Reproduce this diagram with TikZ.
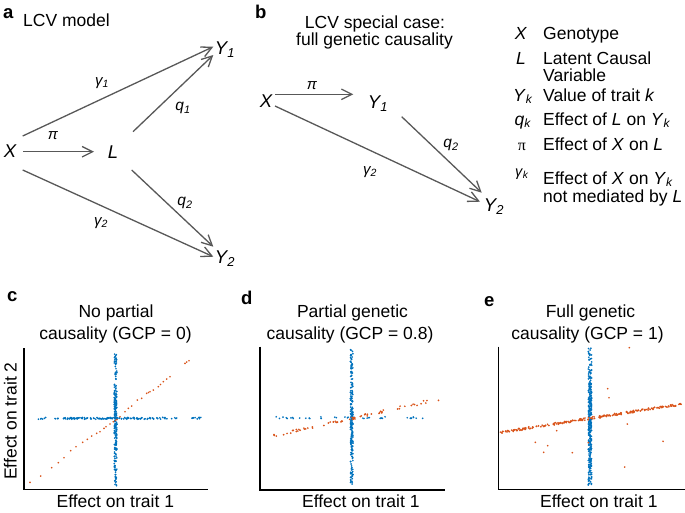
\documentclass[tikz,border=0pt]{standalone}
\usepackage{fontspec}
\setmainfont{Liberation Sans}
\newfontfamily\symgreek{Liberation Serif}
\usetikzlibrary{arrows.meta}
\definecolor{dotblue}{rgb}{0,0.447,0.741}
\definecolor{dotorange}{rgb}{0.85,0.325,0.098}
\definecolor{arrowgray}{RGB}{88,88,88}
\newcommand{\legsub}[1]{\raisebox{-2pt}{\fontsize{12}{12}\selectfont\itshape #1}}
\begin{document}
\begin{tikzpicture}[x=1pt,y=-1pt,
  txt/.style={font=\fontsize{17.5}{17.5}\selectfont, inner sep=0pt},
  var/.style={font=\fontsize{18.5}{18.5}\selectfont\itshape, inner sep=0pt},
  coef/.style={font=\fontsize{15}{15}\selectfont\itshape, inner sep=0pt},
  qcoef/.style={font=\fontsize{15.5}{15.5}\selectfont\itshape, inner sep=0pt},
  paneltag/.style={font=\fontsize{18.5}{18.5}\selectfont\bfseries, inner sep=0pt, anchor=base west},
  arr/.style={draw=arrowgray, line width=1.3pt, -{Straight Barb[length=10.5pt,width=10.5pt,line width=1.3pt]}},
  axisline/.style={draw=black, line width=1.1pt},
  bdot/.style={fill=dotblue},
  odot/.style={fill=dotorange},
]
\useasboundingbox (0,0) rectangle (685,512);
\pgfmathsetseed{4242}

% ---------------- panel a ----------------
\node[paneltag] (ta) at (3,18.5) {a};
\node[txt, anchor=base west] (titlea) at (23,26.5) {LCV model};
\node[var] (aX) at (10,151) {X};
\node[var] (aL) at (113,152) {L};
\node[var] (aY1) at (225,50) {Y\textsubscript{1}};
\node[var] (aY2) at (225,259) {Y\textsubscript{2}};
\draw[arr] ([shift={(13.3,0.7)}]aX.center) -- ([shift={(-19,-0.3)}]aL.center);
\draw[arr] ([shift={(12.7,-15)}]aX.center) -- ([shift={(-11.7,-3.3)}]aY1.center);
\draw[arr] ([shift={(20,-20.3)}]aL.center) -- ([shift={(-11.7,5)}]aY1.center);
\draw[arr] ([shift={(18.7,18)}]aL.center) -- ([shift={(-11.7,-12.3)}]aY2.center);
\draw[arr] ([shift={(12.7,19)}]aX.center) -- ([shift={(-11.7,-2.3)}]aY2.center);
\node[coef] (ag1) at (102,83) {γ\textsubscript{1}};
\node[coef] (api) at (53,136) {π};
\node[qcoef] (aq1) at (183,108) {q\textsubscript{1}};
\node[qcoef] (aq2) at (185,203) {q\textsubscript{2}};
\node[coef] (ag2) at (101,223) {γ\textsubscript{2}};

% ---------------- panel b ----------------
\node[paneltag] (tb) at (255,18.3) {b};
\node[txt, anchor=base] (titleb1) at (375,28.5) {LCV special case:};
\node[txt, anchor=base] (titleb2) at (374.5,45.5) {full genetic causality};
\node[var] (bX) at (266,101) {X};
\node[var] (bY1) at (378,104) {Y\textsubscript{1}};
\node[var] (bY2) at (494,207) {Y\textsubscript{2}};
\draw[arr] ([shift={(9,-6.7)}]bX.center) -- ([shift={(-24.7,-9.7)}]bY1.center);
\draw[arr] ([shift={(9,5)}]bX.center) -- ([shift={(-14,-5.3)}]bY2.center);
\draw[arr] ([shift={(23.7,12.7)}]bY1.center) -- ([shift={(-12.3,-14.3)}]bY2.center);
\node[coef] (bpi) at (312,86) {π};
\node[qcoef] (bq2) at (451,145) {q\textsubscript{2}};
\node[coef] (bg2) at (370,172) {γ\textsubscript{2}};

% ---------------- legend ----------------
\node[txt, anchor=base] (sX) at (521,39) {\textit{X}};
\node[txt, anchor=base west] (dX) at (543,39) {Genotype};
\node[txt, anchor=base] (sL) at (521,64) {\textit{L}};
\node[txt, anchor=base west] (dL1) at (543,64) {Latent Causal};
\node[txt, anchor=base west] (dL2) at (543,81) {Variable};
\node[txt, anchor=base] (sY) at (522.5,101.7) {\textit{Y}\legsub{k}};
\node[txt, anchor=base west] (dY) at (543,101.7) {Value of trait \textit{k}};
\node[txt, anchor=base] (sq) at (522.5,125) {\textit{q}\legsub{k}};
\node[txt, anchor=base west] (dq) at (543,125) {Effect of \textit{L} on \textit{Y}\legsub{k}};
\node[txt, anchor=base, font=\fontsize{16}{16}\symgreek] (spi) at (522,150) {π};
\node[txt, anchor=base west] (dpi) at (543,150) {Effect of \textit{X} on \textit{L}};
\node[txt, anchor=base, font=\fontsize{14.5}{14.5}\selectfont] (sg) at (522,176) {\textit{γ}\textsubscript{\textit{k}}};
\node[txt, anchor=base west] (dg1) at (543,184.7) {Effect of \textit{X} on \textit{Y}\legsub{k}};
\node[txt, anchor=base west] (dg2) at (543,202.2) {not mediated by \textit{L}};

% ---------------- panel c ----------------
\node[paneltag] (tc) at (7,301) {c};
\node[txt, anchor=base] (titlec1) at (116,317.3) {No partial};
\node[txt, anchor=base] (titlec2) at (115.5,339.5) {causality (GCP = 0)};
\draw[axisline] (24,348.3) -- (24,489.3) -- (208.3,489.3);
\node[txt, anchor=base] (xlc) at (115.3,507.5) {Effect on trait 1};
\node[txt, anchor=base, rotate=90] (ylc) at (16.5,421) {Effect on trait 2};
\foreach \i in {1,...,150}{
  \pgfmathsetmacro\px{115.5+1.3*rand}\pgfmathsetmacro\py{420+66*rand}
  \fill[bdot] (\px,\py) circle[radius=0.95];}
\foreach \i in {1,...,80}{
  \pgfmathsetmacro\px{115.5+1.3*rand}\pgfmathsetmacro\py{420+30*rand}
  \fill[bdot] (\px,\py) circle[radius=0.95];}
\foreach \i in {1,...,45}{
  \pgfmathsetmacro\px{119+86*rand}\pgfmathsetmacro\py{418.3+0.9*rand}
  \fill[bdot] (\px,\py) circle[radius=0.95];}
\foreach \i in {1,...,110}{
  \pgfmathsetmacro\px{115+52*rand}\pgfmathsetmacro\py{418.3+0.9*rand}
  \fill[bdot] (\px,\py) circle[radius=0.95];}
\foreach \p in {(30,482.3),(40.7,476),(51.7,467.7),(58.3,462.7),(64,457.7),(70.7,450.7),(76,446.7),(82.7,442.3),(87.3,439.3),(91.7,436),(96.7,433.3),(100,431.7),(104,428.3),(106,426.7),(110,424),(113.3,421.7),(115.5,420.5),(117,419.5),
  (120,416.7),(125,411.7),(128.3,408.3),(131.7,406),(137.3,400),(141.7,398.3),(146.7,393.3),(148.5,392.5),(150,391.7),(153.3,390),(158.3,386.7),(160.5,384.5),(163.3,381.7),(166.7,379),(170,376.7),(185,363.3),(186.7,362),(189,360.7)}{
  \fill[odot] \p circle[radius=0.95];}

% ---------------- panel d ----------------
\node[paneltag] (td) at (241,304) {d};
\node[txt, anchor=base] (titled1) at (352.5,317.3) {Partial genetic};
\node[txt, anchor=base] (titled2) at (350,339.5) {causality (GCP = 0.8)};
\draw[axisline] (260,346.7) -- (260,490) -- (445,490);
\node[txt, anchor=base] (xld) at (360.8,507.5) {Effect on trait 1};
\foreach \i in {1,...,170}{
  \pgfmathsetmacro\px{351.7+1.3*rand}\pgfmathsetmacro\py{416.5+67.5*rand}
  \fill[bdot] (\px,\py) circle[radius=0.95];}
\foreach \i in {1,...,60}{
  \pgfmathsetmacro\px{351.7+1.3*rand}\pgfmathsetmacro\py{418+25*rand}
  \fill[bdot] (\px,\py) circle[radius=0.95];}
\foreach \i in {1,...,40}{
  \pgfmathsetmacro\px{351+77*rand}\pgfmathsetmacro\py{417.7+0.9*rand}
  \fill[bdot] (\px,\py) circle[radius=0.95];}
\foreach \i in {1,...,50}{
  \pgfmathsetmacro\t{rnd}\pgfmathsetmacro\px{272.3+169.4*\t}\pgfmathsetmacro\py{436-37.7*\t+1.6*rand}
  \fill[odot] (\px,\py) circle[radius=0.95];}
\foreach \i in {1,...,18}{
  \pgfmathsetmacro\t{0.45+0.12*rand}\pgfmathsetmacro\px{272.3+169.4*\t}\pgfmathsetmacro\py{436-37.7*\t+1.2*rand}
  \fill[odot] (\px,\py) circle[radius=0.95];}

% ---------------- panel e ----------------
\node[paneltag] (te) at (484,306) {e};
\node[txt, anchor=base] (titlee1) at (590.5,317.3) {Full genetic};
\node[txt, anchor=base] (titlee2) at (587.5,339.5) {causality (GCP = 1)};
\draw[axisline] (498.3,346.7) -- (498.3,489.3) -- (685,489.3);
\node[txt, anchor=base] (xle) at (598.8,507.5) {Effect on trait 1};
\foreach \i in {1,...,230}{
  \pgfmathsetmacro\px{590+1.7*rand}\pgfmathsetmacro\py{416.3+69.7*rand}
  \fill[bdot] (\px,\py) circle[radius=0.95];}
\foreach \i in {1,...,120}{
  \pgfmathsetmacro\px{590+1.5*rand}\pgfmathsetmacro\py{418+35*rand}
  \fill[bdot] (\px,\py) circle[radius=0.95];}
\foreach \i in {1,...,230}{
  \pgfmathsetmacro\t{rnd}\pgfmathsetmacro\px{498.3+183.4*\t}\pgfmathsetmacro\py{432.7-28.7*\t+1.1*rand}
  \fill[odot] (\px,\py) circle[radius=0.95];}
\foreach \p in {(629.3,347.7),(607.7,388.7),(609,397.7),(627.3,424),(556.7,430.7),(535.3,442.3),(547.7,445.7),(543.7,452.3),(572.3,452.7),(624.7,467),(663,441.3),(588.3,442.7)}{
  \fill[odot] \p circle[radius=0.95];}
\end{tikzpicture}
\end{document}
